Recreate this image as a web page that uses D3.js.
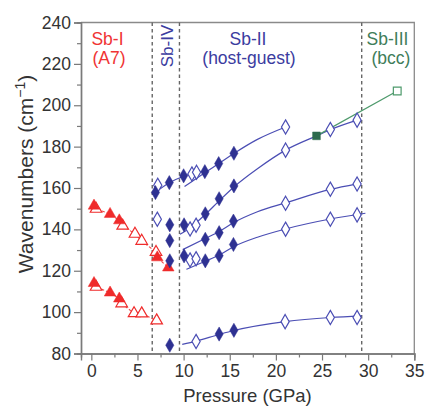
<!DOCTYPE html>
<html><head><meta charset="utf-8">
<script src="https://cdn.jsdelivr.net/npm/d3@7"></script>
<style>body{margin:0;background:#fff}svg{display:block;font-family:"Liberation Sans",Arial,sans-serif}</style>
</head><body><svg id="c" width="427" height="408"></svg>
<script>
// ---- data (Pressure GPa, Wavenumber cm-1) ----
const xTicks = [0, 5, 10, 15, 20, 25, 30, 35];
const xMinor = [2.5, 7.5, 12.5, 17.5, 22.5, 27.5, 32.5];
const yTicks = [80, 100, 120, 140, 160, 180, 200, 220, 240];
const yMinor = [90, 110, 130, 150, 170, 190, 210, 230];
const phaseBounds = [6.6, 9.55, 29.3];

// Sb-I (A7): two branches, filled and open triangles
const sbIUpperFilled = [[0.29,151.4],[2.03,147.4],[3.03,144.3],[7.15,126.4],[8.34,121.5]];
const sbIUpperOpen   = [[0.51,149.9],[3.4,141.7],[4.73,137.8],[5.46,134.4],[7.01,129.0]];
const sbILowerFilled = [[0.29,114.0],[2.03,109.4],[3.03,106.5]];
const sbILowerOpen   = [[0.51,112.2],[3.29,104.2],[4.63,99.4],[5.46,99.3],[7.08,95.9]];

// Sb-IV and Sb-II: filled and open diamonds
const blueFilled = [[6.95,157.8],[8.45,162.6],[8.5,142.2],[8.5,134.6],[8.5,124.8],[8.5,84.0],
  [10.0,165.9],[12.3,167.9],[13.8,171.8],[15.45,176.8],
  [10.05,142.2],[12.35,147.5],[13.85,154.8],[15.45,161.0],
  [12.35,135.2],[13.85,138.4],[15.4,144.0],
  [10.05,127.2],[12.35,124.8],[13.85,127.3],[15.4,132.7],
  [13.85,89.4],[15.45,91.2]];
const blueOpen = [[7.2,161.3],[7.15,144.9],
  [10.9,166.8],[11.4,167.6],[21.05,189.5],
  [21.05,178.3],[25.9,188.3],[28.8,192.8],
  [10.7,140.2],[11.35,142.0],[21.05,152.6],[25.9,159.4],[28.8,161.9],
  [10.7,125.2],[11.35,125.8],[21.05,140.1],[25.9,144.9],[28.8,147.0],
  [11.35,85.8],[21.0,95.4],[25.9,97.4],[28.8,97.4]];

// Sb-III (bcc)
const greenFilled = [[24.4,185.2]];
const greenOpen = [[33.15,206.9]];

// fit curves
const fitIV = [[6.8,157.4],[8.45,162.5],[10,165.7],[11.6,167.6]];
const fitA = [[10.1,160.7],[12.3,167.4],[13.8,171.8],[15.45,176.7],[18,183.5],[21.05,189.5]];
const fitB = [[9.6,137.6],[10.7,140.8],[12.35,147.2],[13.85,153.8],[15.45,160.5],[18,169.3],[21.05,178.3],[24.4,185.2],[25.9,188.2],[28.8,192.8]];
const fitC = [[9.9,130.2],[12.35,135.6],[13.85,139.0],[15.4,143.2],[18,148.5],[21.05,152.8],[25.9,159.3],[28.8,162.0]];
const fitD = [[10.3,120.7],[12.35,124.6],[13.85,127.6],[15.4,131.6],[18,136.2],[21.05,140.2],[25.9,145.0],[29.7,147.8]];
const fitE = [[9.85,84.4],[11.35,86.0],[13.85,89.2],[15.45,91.1],[21,95.4],[25.9,97.4],[29.3,98.2]];
const fitGreen = [[24.4,185.2],[33.15,206.9]];

// ---- drawing ----
const svg = d3.select("#c");
const x = d3.scaleLinear().domain([-1.12, 35]).range([81, 414.3]);
const y = d3.scaleLinear().domain([80, 240]).range([353.5, 22.5]);

const RED = "#ef2b2b", BLUE = "#2e3192", BLUEL = "#4b4eb4", GREEN = "#2e6b4e", GREENL = "#4e9a6c";
const AX = "#7a7a7a", TXT = "#333";

// frame (top & right)
svg.append("path").attr("d", `M${x(-1.12)},${y(240)}H${x(35)}V${y(80)}`)
  .attr("fill","none").attr("stroke","#8a8a8a").attr("stroke-width",1.3);

// phase boundaries
svg.selectAll("line.pb").data(phaseBounds).join("line")
  .attr("x1", d=>x(d)).attr("x2", d=>x(d)).attr("y1", y(240)).attr("y2", y(80))
  .attr("stroke","#666").attr("stroke-width",1.4).attr("stroke-dasharray","3.5,3");

// axes
const gx = svg.append("g").attr("transform",`translate(0,${y(80)})`)
  .call(d3.axisBottom(x).tickValues(xTicks).tickSize(7).tickPadding(4).tickFormat(d3.format("d")));
gx.append("g").call(d3.axisBottom(x).tickValues(xMinor).tickSize(4).tickFormat(""));
const gy = svg.append("g").attr("transform",`translate(${x(-1.12)},0)`)
  .call(d3.axisLeft(y).tickValues(yTicks).tickSize(7).tickPadding(3).tickFormat(d3.format("d")));
gy.append("g").call(d3.axisLeft(y).tickValues(yMinor).tickSize(4).tickFormat(""));
[gx, gy].forEach(g=>{
  g.selectAll("path.domain").attr("stroke",AX).attr("stroke-width",1.4);
  g.selectAll("line").attr("stroke",AX).attr("stroke-width",1.2);
  g.selectAll("text").attr("fill",TXT).style("font-size","17.5px").style("font-family","'Liberation Sans',Arial,sans-serif");
});

// lines
const line = d3.line().x(d=>x(d[0])).y(d=>y(d[1])).curve(d3.curveMonotoneX);
const sortP = a => a.slice().sort((p,q)=>p[0]-q[0]);
[sortP(sbIUpperFilled.concat(sbIUpperOpen)), sortP(sbILowerFilled.concat(sbILowerOpen))].forEach(d=>{
  svg.append("path").attr("d", d3.line().x(p=>x(p[0])).y(p=>y(p[1]))(d))
    .attr("fill","none").attr("stroke",RED).attr("stroke-width",1.1).attr("stroke-dasharray","3,2").attr("opacity",0.85);
});
[fitIV, fitA, fitB, fitC, fitD, fitE].forEach(d=>{
  svg.append("path").attr("d", line(d)).attr("fill","none").attr("stroke",BLUEL).attr("stroke-width",1.2);
});
svg.append("path").attr("d", d3.line().x(p=>x(p[0])).y(p=>y(p[1]))(fitGreen))
  .attr("fill","none").attr("stroke",GREENL).attr("stroke-width",1.2);

// markers
const tri = d3.symbol().type(d3.symbolTriangle).size(58)();
const dia = d3.symbol().type(d3.symbolDiamond).size(58)();
const sq = d3.symbol().type(d3.symbolSquare).size(60)();
function pts(data, path, fill, stroke, sw){
  svg.append("g").selectAll("path").data(data).join("path")
    .attr("d", path).attr("transform", d=>`translate(${x(d[0])},${y(d[1])})`)
    .attr("fill", fill).attr("stroke", stroke).attr("stroke-width", sw);
}
pts(sbIUpperOpen.concat(sbILowerOpen), tri, "#fff", RED, 1.2);
pts(sbIUpperFilled.concat(sbILowerFilled), tri, RED, RED, 0.5);
pts(blueOpen, dia, "#fff", BLUEL, 1.2);
pts(blueFilled, dia, BLUE, BLUE, 0.5);
pts(greenFilled, sq, GREEN, GREEN, 0.5);
pts(greenOpen, sq, "#fff", GREENL, 1.2);

// phase labels
function lab(t, cx, by, col, fs){
  svg.append("text").attr("x",cx).attr("y",by).attr("text-anchor","middle")
    .attr("fill",col).style("font-size",fs+"px").text(t);
}
lab("Sb-I", 107.5, 45, "#f03434", 17.5);
lab("(A7)", 109, 64, "#f03434", 17.5);
lab("Sb-II", 248, 45, "#3b3ca0", 17.5);
lab("(host-guest)", 249, 64, "#3b3ca0", 17.5);
lab("Sb-III", 387.5, 45, "#3f7d5a", 17.5);
lab("(bcc)", 391, 64, "#3f7d5a", 17.5);
svg.append("text").attr("transform","translate(173,46) rotate(-90)").attr("text-anchor","middle")
  .attr("fill","#3b3ca0").style("font-size","17px").text("Sb-IV");

// axis titles
svg.append("text").attr("x",247.5).attr("y",402).attr("text-anchor","middle").attr("fill",TXT)
  .style("font-size","18.5px").text("Pressure (GPa)");
const yt = svg.append("text").attr("transform","translate(33,174) rotate(-90)").attr("text-anchor","middle")
  .attr("fill",TXT).style("font-size","21px");
yt.append("tspan").text("Wavenumbers (cm");
yt.append("tspan").attr("dy",-8).style("font-size","14px").text("\u22121");
yt.append("tspan").attr("dy",8).text(")");
</script></body></html>
